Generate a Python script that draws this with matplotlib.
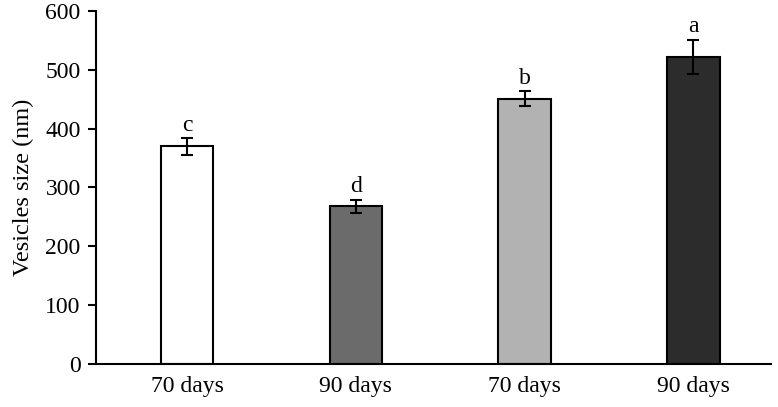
import matplotlib
matplotlib.use("Agg")
import matplotlib.pyplot as plt
import numpy as np

plt.rcParams['font.family'] = ['Liberation Serif', 'DejaVu Serif']

labels = ['70 days', '90 days', '70 days', '90 days']
sizes = [370, 268, 451, 522]
errors = [14, 11, 13, 29]
letters = ['c', 'd', 'b', 'a']
colors = ['#ffffff', '#6b6b6b', '#b2b2b2', '#2c2c2c']

fig = plt.figure(figsize=(7.78, 4.07), dpi=100)
ax = fig.add_axes([0.1234, 0.1057, 0.8676, 0.8673])

x = np.arange(len(sizes)) + 0.04
ax.bar(x, sizes, width=0.31, color=colors, edgecolor='black', linewidth=1.5,
       yerr=errors, error_kw=dict(ecolor='black', elinewidth=1.5, capsize=4, capthick=1.5))

for xi, v, e, t in zip(x, sizes, errors, letters):
    ax.text(xi, v + e + 4, t, ha='center', va='bottom', fontsize=17)

ax.set_xlim(-0.5, 3.5)
ax.set_ylim(0, 600)
ax.set_yticks(range(0, 601, 100))
ax.set_xticks(x)
ax.set_xticklabels(labels)
ax.tick_params(axis='x', length=0, labelsize=17, pad=9)
ax.tick_params(axis='y', length=6, width=1.5, labelsize=17, direction='out', pad=5)
ax.set_ylabel('Vesicles size (nm)', fontsize=17.5, labelpad=8)

for s in ['top', 'right']:
    ax.spines[s].set_visible(False)
for s in ['left', 'bottom']:
    ax.spines[s].set_linewidth(1.5)

fig.savefig('out.png', dpi=100)
